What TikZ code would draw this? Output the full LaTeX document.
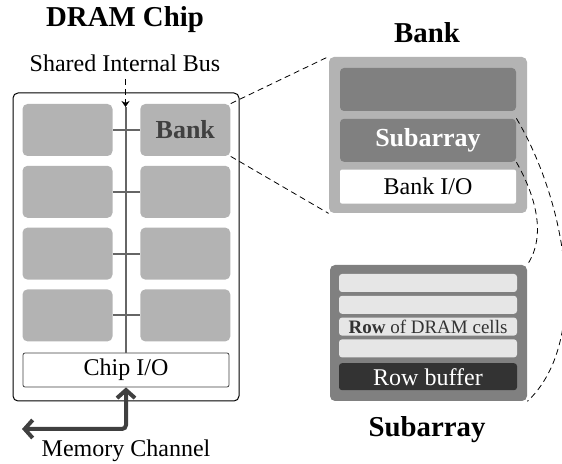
\documentclass[tikz,border=0pt]{standalone}
\usepackage{fontspec}
\setmainfont{Liberation Serif}
\usetikzlibrary{positioning, arrows.meta}

\definecolor{banklight}{HTML}{B3B3B3}
\definecolor{subdark}{HTML}{808080}
\definecolor{rowlight}{HTML}{E6E6E6}
\definecolor{bufdark}{HTML}{333333}
\definecolor{textdark}{HTML}{404040}
\definecolor{busgray}{HTML}{666666}

\begin{document}
\begin{tikzpicture}[
            x=0.5pt, y=-0.5pt,
            heading/.style={font=\fontsize{14.4}{16}\selectfont\bfseries},
            txt/.style={font=\fontsize{12}{14}\selectfont},
            bank/.style={fill=banklight, rounded corners=2.5pt, minimum width=45pt, minimum height=26pt, inner sep=0pt},
            iobox/.style={fill=white, rounded corners=1pt, inner sep=0pt, font=\fontsize{12}{14}\selectfont},
            subbox/.style={fill=subdark, rounded corners=2pt, minimum width=88pt, minimum height=21.5pt, inner sep=0pt},
            cellrow/.style={fill=rowlight, rounded corners=1.5pt, minimum width=89pt, minimum height=9pt, inner sep=0pt},
            zoomline/.style={dash pattern=on 3pt off 2pt, line width=0.4pt},
            busline/.style={busgray, line width=1pt},
            channel/.style={{Straight Barb[length=4pt, width=9pt]}-{Straight Barb[length=4pt, width=9pt]}, textdark, line width=2pt, rounded corners=2pt}
        ]
            \useasboundingbox (0,0) rectangle (562,464);

            % DRAM chip
            \node[heading] (chiptitle) at (125,20) {DRAM Chip};
            \node[draw, line width=0.5pt, rounded corners=2.5pt, minimum width=113pt, minimum height=154pt] (chip) at (126,247) {};

            % Left column
            \node[bank] (b11) at (67.5,130) {};
            \node[bank, below=4.5pt of b11] (b21) {};
            \node[bank, below=4.5pt of b21] (b31) {};
            \node[bank, below=4.5pt of b31] (b41) {};

            % Right column
            \node[bank, right=13.5pt of b11, text=textdark, font=\fontsize{13}{15}\selectfont\bfseries] (b12) {Bank};
            \node[bank, below=4.5pt of b12] (b22) {};
            \node[bank, below=4.5pt of b22] (b32) {};
            \node[bank, below=4.5pt of b32] (b42) {};

            % Chip I/O and bus
            \node[iobox, draw=textdark, line width=0.4pt, minimum width=103pt, minimum height=17pt] (chipio) at (126,370) {Chip I/O};
            \coordinate (bustop) at (125.5,107);
            \draw[busline] (bustop) -- (bustop |- chipio.north);
            \draw[busline] (b11.east) -- (b12.west);
            \draw[busline] (b21.east) -- (b22.west);
            \draw[busline] (b31.east) -- (b32.west);
            \draw[busline] (b41.east) -- (b42.west);

            \node[txt] (buslbl) at (125,63) {Shared Internal Bus};
            \coordinate (busfeed) at (125.5,79);
            \draw[zoomline, -{Stealth[length=3pt, width=4pt]}] (busfeed) -- (bustop);

            % Memory channel
            \coordinate (chanend) at (22,429);
            \draw[channel] (chanend) -- (chanend -| chipio.south) -- (chipio.south);
            \node[txt] (chanlbl) at (126,451) {Memory Channel};

            % Bank
            \node[heading] (banktitle) at (427,33) {Bank};
            \node[fill=banklight, rounded corners=2.5pt, minimum width=99pt, minimum height=78pt] (bankbig) at (428,135) {};
            \node[subbox] (sa1) at (428,89.5) {};
            \node[subbox, below=3.5pt of sa1, text=white, font=\fontsize{13}{15}\selectfont\bfseries] (sa2) {Subarray};
            \node[iobox, below=3.5pt of sa2, minimum width=88pt, minimum height=17pt] (bankio) {Bank I/O};

            % Subarray
            \node[heading] (subtitle) at (427,430) {Subarray};
            \node[fill=subdark, rounded corners=2.5pt, minimum width=98.5pt, minimum height=68pt] (subbig) at (428.5,333) {};
            \node[cellrow] (row1) at (428,283) {};
            \node[cellrow, below=1.5pt of row1] (row2) {};
            \node[cellrow, below=1.5pt of row2, text=bufdark, font=\fontsize{9.5}{11}\selectfont] (row3) {\textbf{Row} of DRAM cells};
            \node[cellrow, below=1.5pt of row3] (row4) {};
            \node[cellrow, fill=bufdark, minimum height=13.5pt, below=2.5pt of row4, text=white, font=\fontsize{12}{14}\selectfont] (rowbuf) {Row buffer};

            % Zoom lines
            \draw[zoomline] (b12.north east) -- (bankbig.north west);
            \draw[zoomline] (b12.south east) -- (bankbig.south west);
            \draw[zoomline] (sa2.north east) .. controls (565,200) and (592,340) .. (subbig.south east);
            \draw[zoomline] (sa2.south east) .. controls (535,195) and (547,235) .. (subbig.north east);

        \end{tikzpicture}
\end{document}
